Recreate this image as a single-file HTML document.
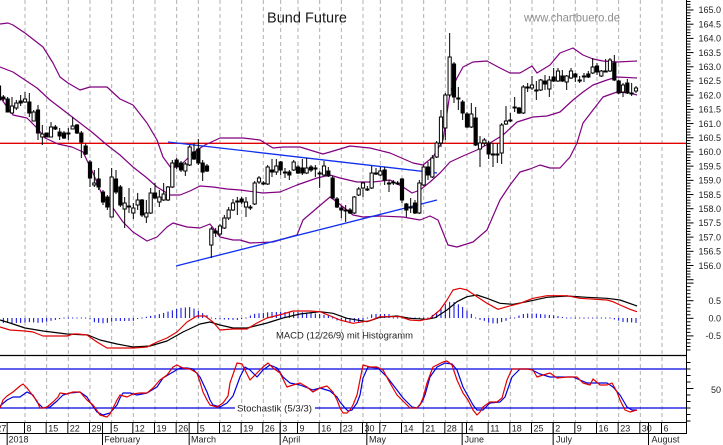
<!DOCTYPE html>
<html><head><meta charset="utf-8">
<style>
html,body{margin:0;padding:0;background:#fff;overflow:hidden;}
svg{display:block;}
text{font-family:"Liberation Sans",Arial,sans-serif;}
</style></head>
<body>
<svg id="c" width="723" height="445" viewBox="0 0 723 445" xmlns="http://www.w3.org/2000/svg">
<rect width="723" height="445" fill="#fff"/>
<g id="data"></g>
<!-- title / watermark -->
<text x="267" y="22.5" font-size="15" fill="#1a1a1a" textLength="80" lengthAdjust="spacingAndGlyphs">Bund Future</text>
<text x="524" y="21.5" font-size="12" fill="#8e8e8e" textLength="96" lengthAdjust="spacingAndGlyphs">www.chartbuero.de</text>
<!-- indicator labels -->
<text x="276" y="338.3" font-size="9.5" fill="#222" textLength="137" lengthAdjust="spacingAndGlyphs">MACD (12/26/9) mit Histogramm</text>
<rect x="235" y="403" width="80" height="11" fill="#fff"/>
<text x="237" y="411.5" font-size="9.5" fill="#222" textLength="75" lengthAdjust="spacingAndGlyphs">Stochastik (5/3/3)</text>
<!-- right axis labels -->
<g font-size="9" fill="#222" text-anchor="end">
<text x="721" y="13.2">165.0</text>
<text x="721" y="27.4">164.5</text>
<text x="721" y="41.6">164.0</text>
<text x="721" y="55.8">163.5</text>
<text x="721" y="70">163.0</text>
<text x="721" y="84.2">162.5</text>
<text x="721" y="98.4">162.0</text>
<text x="721" y="112.6">161.5</text>
<text x="721" y="126.8">161.0</text>
<text x="721" y="141">160.5</text>
<text x="721" y="155.2">160.0</text>
<text x="721" y="169.4">159.5</text>
<text x="721" y="183.6">159.0</text>
<text x="721" y="197.8">158.5</text>
<text x="721" y="212">158.0</text>
<text x="721" y="226.2">157.5</text>
<text x="721" y="240.4">157.0</text>
<text x="721" y="254.6">156.5</text>
<text x="721" y="268.8">156.0</text>
<text x="721" y="304">0.5</text>
<text x="721" y="321.5">0.0</text>
<text x="721" y="339">-0.5</text>
<text x="721" y="393">50</text>
</g>
<!-- day labels -->
<g font-size="9" fill="#222">
<text x="-3.8" y="431.5">27</text>
<text x="26.5" y="431.5">8</text>
<text x="48.2" y="431.5">15</text>
<text x="69.8" y="431.5">22</text>
<text x="91.5" y="431.5">29</text>
<text x="113.2" y="431.5">5</text>
<text x="134.8" y="431.5">12</text>
<text x="156.5" y="431.5">19</text>
<text x="178.2" y="431.5">26</text>
<text x="199.8" y="431.5">5</text>
<text x="221.5" y="431.5">12</text>
<text x="243.2" y="431.5">19</text>
<text x="264.8" y="431.5">26</text>
<text x="282.2" y="431.5">3</text>
<text x="299.5" y="431.5">9</text>
<text x="321.2" y="431.5">16</text>
<text x="342.8" y="431.5">23</text>
<text x="364.5" y="431.5">30</text>
<text x="381.8" y="431.5">7</text>
<text x="403.5" y="431.5">14</text>
<text x="425.2" y="431.5">21</text>
<text x="446.8" y="431.5">28</text>
<text x="468.5" y="431.5">4</text>
<text x="490.2" y="431.5">11</text>
<text x="511.8" y="431.5">18</text>
<text x="533.5" y="431.5">25</text>
<text x="555.2" y="431.5">2</text>
<text x="576.8" y="431.5">9</text>
<text x="598.5" y="431.5">16</text>
<text x="620.2" y="431.5">23</text>
<text x="641.8" y="431.5">30</text>
<text x="663.5" y="431.5">6</text>
</g>
<g font-size="9" fill="#222">
<text x="8.5" y="442.5">2018</text>
<text x="104.3" y="442.5">February</text>
<text x="191" y="442.5">March</text>
<text x="282.3" y="442.5">April</text>
<text x="369" y="442.5">May</text>
<text x="464.5" y="442.5">June</text>
<text x="556" y="442.5">July</text>
<text x="651.5" y="442.5">August</text>
</g>
</svg>
<script>
(function(){
var NS="http://www.w3.org/2000/svg";
var root=document.getElementById('data');
function el(tag,attrs,parent){var e=document.createElementNS(NS,tag);for(var a in attrs)e.setAttribute(a,attrs[a]);(parent||root).appendChild(e);return e;}
function X(k){return 3.333+4.3333*k;}
function pl(pts,color,w){var s=pts.map(function(p){return p[0]+','+p[1];}).join(' ');el('polyline',{points:s,fill:'none',stroke:color,'stroke-width':w,'stroke-linejoin':'round'});}
function line(x1,y1,x2,y2,c,w,extra){var a={x1:x1,y1:y1,x2:x2,y2:y2,stroke:c,'stroke-width':w};if(extra)for(var b in extra)a[b]=extra[b];el('line',a);}

var weeks=[-2,5,10,15,20,25,30,35,40,45,50,55,60,64,68,73,78,83,87,92,97,102,107,112,117,122,127,132,137,142,147,152];
var months=[1,23,43,64,84,106,127,149];
// dashed grid
weeks.forEach(function(k){var x=X(k);line(x,0,x,422,'#b0b0b0',1,{'stroke-dasharray':'4 3'});});
// day row separators
weeks.forEach(function(k){var x=X(k)-0.5;line(x,422,x,433,'#000',1);});
months.forEach(function(k){var x=X(k)-0.5;line(x,422,x,445,'#000',1);});
// horizontal frame lines
line(0,422.5,686.5,422.5,'#000',1);
line(0,433.5,686.5,433.5,'#000',1);
line(0,355.5,686.5,355.5,'#000',1.2);
line(0,369,686.5,369,'#0000e0',1.2);
line(0,408,235,408,'#0000e0',1.2);
line(315,408,686.5,408,'#0000e0',1.2);
// red horizontal
line(0,143.3,686,143.3,'#e00000',1.3);
// right axis
line(686.5,0,686.5,434,'#000',1);
var p,y;
for(var i=0;i<=100;i++){p=165.5-i*0.1;y=10+(165-p)*28.39;if(y<0||y>281)continue;var maj=(Math.round(p*10)%5===0);line(686.5,y,maj?693.5:690.5,y,'#000',1);}
for(var v=-10;v<=12;v++){y=318.3-v*0.1*35.2;if(y<282||y>352)continue;line(686.5,y,(v%5===0)?693.5:690.5,y,'#000',1);}
for(var s=0;s<=10;s++){y=421-s*6.5;if(y<357)continue;line(686.5,y,(s===5)?693.5:690.5,y,'#000',1);}

// Bollinger
var purple='#800080';
pl([[0,24],[8,23],[13,25],[25,33],[43,47],[53,63],[60,77],[68,83],[80,90],[90,87],[107,87],[120,99],[133,105],[147,123],[157,140],[163,157],[171,168],[180,166],[188,158],[197,150],[205,145],[220,138],[243,138],[260,140],[273,148],[283,147],[300,147],[313,151],[323,154],[330,152],[350,146],[370,148],[390,153],[413,163],[423,165],[433,157],[443,140],[450,93],[457,78],[463,67],[473,62],[487,61],[500,68],[510,73],[520,73],[532,66],[537,73],[550,65],[560,53],[573,48],[583,55],[593,59],[603,61],[617,62],[637,61]],purple,1.2);
pl([[0,67],[13,72],[25,80],[37,88],[50,100],[67,113],[80,123],[93,133],[107,145],[120,155],[133,167],[147,178],[157,187],[170,195],[180,195],[190,191],[200,186],[213,187],[227,189],[240,190],[263,193],[280,192],[297,185],[317,178],[330,175],[340,178],[357,182],[373,182],[390,180],[403,187],[412,193],[420,190],[430,182],[440,173],[450,162],[463,156],[477,150],[490,143],[503,135],[517,122],[533,117],[547,116],[560,112],[573,100],[583,92],[593,85],[607,80],[617,77],[637,78]],purple,1.2);
pl([[0,97],[7,107],[13,115],[27,118],[37,128],[45,138],[58,144],[72,147],[83,152],[93,173],[103,197],[113,208],[123,222],[133,232],[147,241],[157,237],[167,227],[173,223],[187,227],[200,228],[210,224],[220,237],[233,240],[240,240],[250,243],[273,242],[290,237],[297,235],[303,220],[317,208],[330,197],[337,202],[353,215],[363,217],[380,216],[403,217],[420,220],[430,216],[438,220],[448,245],[457,247],[473,242],[487,230],[500,200],[510,185],[520,172],[530,169],[540,165],[550,168],[560,168],[570,157],[577,143],[583,123],[593,110],[603,97],[617,92],[630,93],[637,95]],purple,1.2);

// trendlines
line(168,142,437,173,'#1030f0',1.3);
line(176,266,437,200,'#1030f0',1.3);

// candles
var C=[
[-1,86,100,85,105,1],[0,97,99,95,101,1],[1,99,112,97,112,1],[2,106,113,97,113,0],[3,103,108,100,110,0],
[4,101,103,95,106,1],[5,99,102,92,103,0],[6,102,113,93,117,1],[7,112,121,110,121,0],[8,110,133,105,140,1],
[9,134,137,125,145,0],[10,133,137,133,137,1],[11,127,137,122,137,0],[12,127,129,125,130,1],[13,132,136,128,140,1],
[14,133,138,131,139,1],[15,133,134,128,140,1],[16,126,129,117,129,0],[17,125,133,124,134,1],[18,133,142,131,158,1],
[19,146,154,143,155,1],[20,162,178,160,187,1],[21,183,185,170,187,0],[22,179,187,168,190,1],[23,192,202,190,205,1],
[24,197,207,195,210,1],[25,177,217,168,217,0],[26,179,192,170,194,1],[27,187,205,185,207,1],[28,203,209,197,228,0],
[29,206,207,188,213,1],[30,208,213,203,219,0],[31,200,205,193,210,0],[32,200,215,199,217,1],[33,213,217,200,223,0],
[34,193,213,188,214,0],[35,193,198,183,199,1],[36,197,202,190,207,0],[37,194,200,183,201,0],[38,187,200,186,201,0],
[39,163,187,160,188,0],[40,160,167,158,169,1],[41,163,170,161,172,1],[42,164,171,162,176,0],[43,147,165,145,166,0],
[44,152,159,143,160,1],[45,149,163,139,165,1],[46,163,172,160,181,1],[47,166,171,164,172,1],[48,229,245,227,258,0],
[49,231,233,228,237,1],[50,226,234,224,236,0],[51,218,228,215,229,0],[52,210,218,207,220,0],[53,203,210,199,211,0],
[54,201,202,197,215,1],[55,199,202,197,204,1],[56,202,207,197,217,0],[57,207,208,205,210,1],[58,183,204,181,205,0],
[59,178,182,176,184,0],[60,183,184,181,185,1],[61,167,184,165,185,0],[62,170,172,159,177,1],[63,166,172,159,175,0],
[64,162,170,161,175,1],[65,172,173,168,178,1],[66,172,175,170,180,1],[67,162,170,160,171,0],[68,167,173,165,174,1],
[69,168,173,159,175,1],[70,168,173,158,174,0],[71,167,170,165,172,1],[72,168,169,165,177,1],[73,173,174,171,188,1],
[74,166,175,161,176,0],[75,171,176,167,177,1],[76,178,198,176,199,1],[77,199,207,197,208,1],[78,208,210,206,218,1],
[79,210,211,205,222,1],[80,210,213,208,214,1],[81,197,213,196,214,0],[82,189,195,187,196,0],[83,183,188,182,197,0],
[84,189,190,186,191,1],[85,173,188,166,189,0],[86,173,174,168,175,1],[87,171,175,167,176,0],[88,170,180,167,185,1],
[89,183,184,180,192,1],[90,182,183,180,185,1],[91,183,184,181,185,1],[92,179,200,178,203,1],[93,204,210,203,217,1],
[94,207,208,198,213,1],[95,203,213,200,214,1],[96,183,213,180,214,0],[97,167,185,165,186,0],[98,167,175,162,180,1],
[99,158,177,155,178,0],[100,143,157,141,158,0],[101,117,143,110,147,0],[102,95,128,93,140,0],[103,57,95,33,97,0],
[104,64,97,62,103,1],[105,98,99,87,110,1],[106,102,113,100,120,1],[107,114,127,112,128,1],[108,114,127,103,128,0],
[109,118,145,107,146,1],[110,143,149,136,167,0],[111,140,143,138,146,0],[112,143,154,141,159,1],[113,154,155,143,167,1],
[114,154,155,143,163,1],[115,125,153,123,164,0],[116,121,124,106,125,0],[117,120,121,113,122,1],[118,107,108,97,112,1],
[119,108,113,107,114,1],[120,87,113,85,114,0],[121,87,88,83,92,1],[122,85,88,76,90,0],[123,90,91,81,100,1],
[124,80,90,79,91,0],[125,81,84,75,90,1],[126,80,89,76,97,0],[127,77,81,68,82,1],[128,71,81,68,82,0],
[129,76,81,70,82,1],[130,76,82,75,90,0],[131,71,78,68,79,0],[132,74,77,73,82,1],[133,80,81,76,83,1],
[134,76,77,73,82,1],[135,74,77,71,78,1],[136,67,73,58,74,0],[137,66,72,63,75,1],[138,71,76,70,77,0],
[139,71,72,59,72,1],[140,60,71,58,72,0],[141,63,80,55,81,1],[142,81,93,80,94,1],[143,85,92,83,97,0],
[144,83,93,79,94,1],[145,93,94,83,96,1],[146,88,91,86,93,0]];
C.forEach(function(c){
  var x=X(c[0]);
  line(x,c[3],x,c[4],'#000',1);
  var h=Math.max(c[2]-c[1],1);
  el('rect',{x:x-1.6,y:c[1],width:3.2,height:h,fill:c[5]?'#000':'#fff',stroke:'#000','stroke-width':1});
});

// MACD histogram
var H=[[0,-5],[20,-5],[30,-4],[40,-5],[45,-4],[55,-2],[60,-1],[65,-0.5],[75,0.5],[88,0.5],[93,-4],[100,-5],[105,-5.5],[110,-4],[115,-3],[133,-3],[140,0],[150,2],[160,4],[170,7],[180,10],[190,11],[195,9],[200,6],[207,3],[212,-1],[237,-2],[245,-0.5],[253,4],[270,6],[300,6],[320,4],[330,2],[335,-2],[345,-4],[363,-4],[368,0],[372,4],[390,4],[393,0.5],[427,0.5],[435,4.5],[440,8.5],[444,13],[448,15.3],[452,17.3],[456,14.7],[460,13],[464,10],[468,6.3],[472,3.7],[477,-1.5],[481,-2],[485,-3],[490,-5],[494,-5.5],[498,-5.5],[502,-4],[507,-2.5],[512,0],[517,1.5],[520,3],[525,4.5],[535,4.5],[540,4],[545,3.5],[550,3],[555,2.5],[560,1.5],[565,0.5],[607,0.5],[612,-1],[617,-2],[622,-4],[632,-4.5],[637,-5]];
function hv(x){for(var i=0;i<H.length-1;i++){if(x>=H[i][0]&&x<=H[i+1][0]){var t=(x-H[i][0])/(H[i+1][0]-H[i][0]);return H[i][1]+t*(H[i+1][1]-H[i][1]);}}return 0;}
for(var k=-1;k<=146;k++){var x=X(k);if(x<0)continue;var v2=hv(x);var z=318;
  if(Math.abs(v2)<1){el('rect',{x:x-0.5,y:z-0.5,width:1,height:1,fill:'#0000e0'});}
  else line(x,z,x,z-v2,'#0000e0',1);}
// MACD lines
pl([[0,320],[10,323],[25,328],[43,331],[67,334],[88,335],[100,340],[117,344],[133,347],[150,346],[167,341],[183,332],[200,324],[210,322],[220,325],[233,328],[247,328],[267,323],[283,318],[300,314],[317,312],[320,311.7],[333,313.3],[347,318.3],[367,321.7],[380,317.3],[397,316],[410,318.3],[427,319.3],[435,317.7],[447,310],[457,301.7],[467,296.7],[477,295],[487,298.3],[500,303.3],[513,304.3],[527,301.7],[547,297.3],[567,296],[587,297.3],[607,298.3],[620,300],[637,306]],'#000',1.2);
pl([[0,327],[10,330],[25,331],[33,332],[43,336],[67,336],[73,334],[78,334],[87,335],[97,342],[107,348],[117,348],[133,348],[147,347],[157,342],[167,338],[177,332],[187,322],[197,316],[205,316],[213,322],[220,330],[233,329],[247,329],[257,323],[267,318],[283,314],[293,311],[310,311],[320,311.7],[340,320],[353,323.3],[370,320.7],[380,316.7],[400,316.7],[410,320],[420,320.7],[430,318.3],[440,310],[447,300],[453,290],[460,288.3],[467,290],[477,296.7],[487,303.3],[498,309.3],[507,306.7],[520,303.3],[533,298.3],[547,295.7],[567,295.7],[580,298.3],[607,300],[613,301.7],[620,305],[630,309.3],[637,311.7]],'#e00000',1.2);

// Stochastic
pl([[0,406],[7,400],[13,397],[20,397],[27,392],[33,395],[37,402],[43,408],[50,407],[57,401],[63,395],[70,393],[80,392],[87,397],[90,402],[97,412],[103,415],[110,413],[117,405],[120,398],[123,393],[130,393],[137,395],[147,393],[157,387],[163,378],[173,372],[180,368],[187,368],[193,369],[200,377],[207,392],[210,400],[213,405],[220,407],[227,403],[233,396],[240,377],[245,367],[250,370],[257,377],[263,370],[270,365],[277,368],[283,377],[290,383],[300,385],[313,390],[320,388],[330,391],[337,397],[340,402],[345,408],[348,411],[352,410],[357,403],[360,395],[363,378],[368,367],[378,368],[387,377],[397,390],[403,398],[407,402],[412,407],[417,408],[422,402],[425,395],[430,377],[437,367],[445,363],[452,364],[457,370],[463,387],[468,396],[473,405],[477,410],[483,410],[490,403],[500,402],[505,397],[512,377],[520,369],[530,369],[540,374],[550,377],[560,377],[573,377],[580,380],[587,383],[597,383],[607,383],[613,387],[620,395],[627,407],[632,410],[637,410]],'#0000e0',1.2);
pl([[0,408],[3,400],[7,396],[13,392],[20,386],[23,384],[27,388],[30,392],[37,401],[40,408],[43,408],[47,407],[53,402],[58,397],[60,393],[67,394],[73,392],[80,392],[87,400],[93,405],[100,415],[107,417],[110,414],[113,408],[117,400],[120,395],[127,397],[133,394],[140,393],[147,393],[153,388],[160,380],[167,375],[173,367],[177,365],[183,368],[190,369],[197,373],[200,382],[203,392],[207,400],[210,405],[217,407],[223,403],[228,396],[230,383],[237,363],[242,364],[250,380],[257,373],[263,367],[268,363],[273,368],[280,373],[287,387],[293,385],[300,383],[307,387],[313,392],[320,388],[327,386],[333,392],[337,400],[340,408],[343,413],[347,413],[350,410],[353,405],[357,395],[362,370],[363,365],[370,367],[377,367],[383,370],[390,383],[397,395],[403,401],[410,408],[417,408],[420,405],[423,398],[427,383],[433,367],[443,362],[447,361],[452,365],[457,380],[463,393],[468,400],[473,410],[477,415],[480,412],[483,407],[490,402],[497,402],[502,398],[507,380],[512,369],[520,369],[527,369],[533,370],[537,377],[543,375],[550,373],[557,378],[567,377],[577,377],[583,383],[590,385],[593,379],[600,385],[607,385],[612,383],[617,392],[620,400],[625,410],[630,412],[637,410]],'#e00000',1.2);
// re-cover stochastik label area
el('rect',{x:235,y:403,width:80,height:11,fill:'#fff'});
})();
</script>
</body></html>
